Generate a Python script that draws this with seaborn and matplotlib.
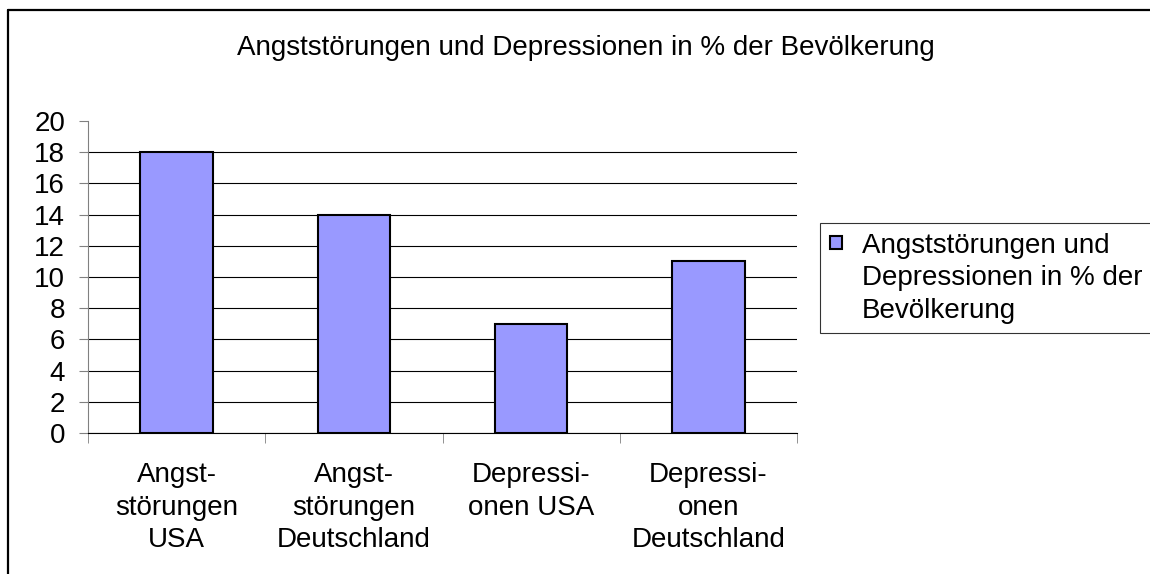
import matplotlib
matplotlib.use("Agg")
import matplotlib.pyplot as plt
import seaborn as sns
from matplotlib.lines import Line2D
from matplotlib.patches import Rectangle
from matplotlib.legend_handler import HandlerPatch

# --- Data ---
categories = ["Angst-\nstörungen\nUSA", "Angst-\nstörungen\nDeutschland",
              "Depressi-\nonen USA", "Depressi-\nonen\nDeutschland"]
values = [18, 14, 7, 11]
series_name = "Angststörungen und\nDepressionen in % der\nBevölkerung"
title = "Angststörungen und Depressionen in % der Bevölkerung"
y_ticks = list(range(0, 21, 2))

# --- Settings ---
sns.set_style("white")
plt.rcParams["font.family"] = ["Liberation Sans", "DejaVu Sans"]
plt.rcParams["text.color"] = "black"
bar_color = "#9999FF"
fs = 20

fig = plt.figure(figsize=(11.5, 5.74), dpi=100)
ax = fig.add_axes([88 / 1150, 1 - 433 / 574, (797 - 88) / 1150, (433 - 121) / 574])

sns.barplot(x=categories, y=values, color=bar_color, edgecolor="black",
            linewidth=1.5, width=0.41, saturation=1, ax=ax)

ax.set_ylim(0, 20)
ax.set_xlim(-0.5, 3.5)
ax.set_yticks(y_ticks)
ax.tick_params(axis="y", labelsize=fs, labelcolor="black", length=6.5, color="#808080",
               direction="out", left=True, pad=10)
ax.tick_params(axis="x", which="major", labelsize=fs, labelcolor="black", length=0, pad=21)
ax.set_xticks([-0.5, 0.5, 1.5, 2.5, 3.5], minor=True)
ax.tick_params(axis="x", which="minor", length=7, color="#808080", direction="out", bottom=True)
for lbl in ax.get_xticklabels():
    lbl.set_linespacing(1.32)

ax.yaxis.grid(True, color="black", linewidth=0.8)
ax.set_axisbelow(True)
ax.get_ygridlines()[-1].set_visible(False)

for side in ["top", "right"]:
    ax.spines[side].set_visible(False)
ax.spines["left"].set_color("#808080")
ax.spines["bottom"].set_color("black")
ax.set_xlabel("")
ax.set_ylabel("")

fig.text(586 / 1150, 1 - 48 / 574, title, ha="center", va="center", fontsize=fs)


# legend square sits on the first text line, like Excel does it
def top_square(legend, orig_handle, xdescent, ydescent, width, height, fontsize):
    sq = 0.45 * fontsize
    yc = -ydescent + height / 2 + 1.3 * fontsize
    return Rectangle((-xdescent, yc - sq / 2), sq, sq)


legend_handle = Rectangle((0, 0), 1, 1, facecolor=bar_color, edgecolor="black", linewidth=1.5)
leg = ax.legend(handles=[legend_handle], labels=[series_name],
                loc="upper left", bbox_to_anchor=(820 / 1150, 1 - 223 / 574),
                bbox_transform=fig.transFigure, fontsize=fs, frameon=True,
                fancybox=False, edgecolor="black", handlelength=0.45, handleheight=0.7,
                handletextpad=0.7, borderaxespad=0, borderpad=0.35,
                handler_map={Rectangle: HandlerPatch(patch_func=top_square)})
leg.get_frame().set_linewidth(0.8)
for t in leg.get_texts():
    t.set_linespacing(1.32)

# --- Chart border (only left and top edges are inside the picture) ---
bx, by = 8 / 1150, 1 - 10 / 574
fig.add_artist(Line2D([bx, bx], [0, by], transform=fig.transFigure, color="black", lw=1.6))
fig.add_artist(Line2D([bx, 1], [by, by], transform=fig.transFigure, color="black", lw=1.6))

fig.savefig("out.png", dpi=100)
